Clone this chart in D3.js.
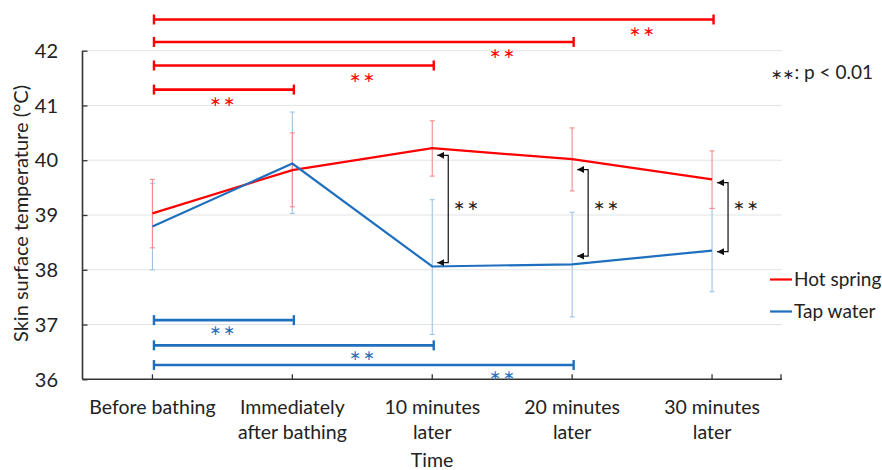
<!DOCTYPE html>
<html>
<head>
<meta charset="utf-8">
<script src="https://cdn.jsdelivr.net/npm/d3@7"></script>
<style>
  html, body { margin: 0; padding: 0; background: #fff; }
  svg { display: block; font-family: Lato, "Open Sans", sans-serif; }
  .star { font-family: "DejaVu Sans", sans-serif; }
</style>
</head>
<body>
<svg id="chart" width="882" height="470"></svg>
<script>
// ---------- data ----------
const categories = ["Before bathing", "Immediately\nafter bathing", "10 minutes\nlater", "20 minutes\nlater", "30 minutes\nlater"];
const seriesNames = ["Hot spring", "Tap water"];
const hotMean  = [39.03, 39.82, 40.22, 40.02, 39.65];
const hotUpper = [39.65, 40.50, 40.72, 40.59, 40.17];
const hotLower = [38.40, 39.15, 39.71, 39.44, 39.12];
const tapMean  = [38.79, 39.94, 38.06, 38.10, 38.35];
const tapUpper = [39.58, 40.88, 39.28, 39.05, 39.12];
const tapLower = [38.00, 39.03, 36.82, 37.14, 37.60];
const yTicks = [36, 37, 38, 39, 40, 41, 42];
// significance brackets (from category index, to category index, level in °C)
const hotBrackets = [
  {from: 0, to: 4, level: 42.57},
  {from: 0, to: 3, level: 42.16},
  {from: 0, to: 2, level: 41.73},
  {from: 0, to: 1, level: 41.29}
];
const tapBrackets = [
  {from: 0, to: 1, level: 37.08},
  {from: 0, to: 2, level: 36.62},
  {from: 0, to: 3, level: 36.26}
];
// between-group comparison arrows
const diffCats   = [2, 3, 4];
const diffTop    = [40.09, 39.83, 39.59];
const diffBottom = [38.13, 38.25, 38.33];
const diffStarLevel = 39.17;
const sigLabel = "\u2217\u2217";
const noteText = ": p < 0.01";

// ---------- layout ----------
const RED = "#ff0000", BLUE = "#1f6fbf";
const RED_ERR = "#f28b8b", BLUE_ERR = "#9cc3e5";
const svg = d3.select("#chart");
const x = d3.scaleBand().domain(categories).range([82.5, 782]);
const cx = i => x(categories[i]) + x.bandwidth() / 2;
const y = d3.scaleLinear().domain([36, 42]).range([379.3, 50.7]);

// gridlines
svg.append("g").selectAll("line").data(yTicks.slice(1)).join("line")
  .attr("x1", 82.5).attr("x2", 782)
  .attr("y1", d => y(d)).attr("y2", d => y(d))
  .attr("stroke", "#e3e3e3").attr("stroke-width", 1);

// y axis
const yAxis = svg.append("g").attr("transform", "translate(82.5,0)")
  .call(d3.axisRight(y).tickValues(yTicks).tickSize(5).tickFormat(""));
yAxis.select(".domain").attr("stroke", "#333").attr("stroke-width", 1.6).attr("d", `M0,${y(42)}V${y(36)}`);
yAxis.selectAll(".tick line").attr("stroke", "#333").attr("stroke-width", 1.3);
svg.append("g").selectAll("text").data(yTicks).join("text")
  .attr("x", 58).attr("y", d => y(d)).attr("dy", "0.36em")
  .attr("text-anchor", "end").attr("font-size", 20).attr("fill", "#222")
  .text(d => d);

// x axis
const xAxis = svg.append("g").attr("transform", `translate(0,${y(36)})`)
  .call(d3.axisTop(x).tickSize(5).tickFormat("").tickSizeOuter(0));
xAxis.select(".domain").attr("stroke", "#333").attr("stroke-width", 1.6).attr("d", "M82.5,0H782");
xAxis.selectAll(".tick line").attr("stroke", "#333").attr("stroke-width", 1.3);
xAxis.append("line").attr("x1", 781).attr("x2", 781).attr("y1", 0).attr("y2", -5)
  .attr("stroke", "#333").attr("stroke-width", 1.3);

const xl = svg.append("g").selectAll("text").data(categories).join("text")
  .attr("text-anchor", "middle").attr("font-size", 19.5).attr("fill", "#222")
  .attr("transform", d => `translate(${x(d) + x.bandwidth() / 2},414)`);
xl.selectAll("tspan").data(d => d.split("\n")).join("tspan")
  .attr("x", 0).attr("y", (d, i) => i * 25).text(d => d);

svg.append("text").attr("x", 432).attr("y", 467).attr("text-anchor", "middle")
  .attr("font-size", 19.5).attr("fill", "#222").text("Time");
svg.append("text").attr("transform", "translate(27.5,213.5) rotate(-90)")
  .attr("text-anchor", "middle").attr("font-size", 20).attr("fill", "#222")
  .text("Skin surface temperature (°C)");

// error bars
function errorBars(upper, lower, color) {
  const g = svg.append("g").attr("stroke", color).attr("stroke-width", 1.1);
  categories.forEach((c, i) => {
    g.append("line").attr("x1", cx(i)).attr("x2", cx(i)).attr("y1", y(upper[i])).attr("y2", y(lower[i]));
    g.append("line").attr("x1", cx(i) - 2.5).attr("x2", cx(i) + 2.5).attr("y1", y(upper[i])).attr("y2", y(upper[i]));
    g.append("line").attr("x1", cx(i) - 2.5).attr("x2", cx(i) + 2.5).attr("y1", y(lower[i])).attr("y2", y(lower[i]));
  });
}
errorBars(tapUpper, tapLower, BLUE_ERR);
errorBars(hotUpper, hotLower, RED_ERR);

// series lines
const line = d3.line().x((d, i) => cx(i)).y(d => y(d));
svg.append("path").datum(hotMean).attr("d", line).attr("fill", "none").attr("stroke", RED).attr("stroke-width", 2.2);
svg.append("path").datum(tapMean).attr("d", line).attr("fill", "none").attr("stroke", BLUE).attr("stroke-width", 2.2);

// brackets
function brackets(list, color, starDy) {
  const g = svg.append("g");
  list.forEach(b => {
    const x1 = cx(b.from) + 1.5, x2 = cx(b.to) + 1.5, yy = y(b.level);
    g.append("line").attr("x1", x1).attr("x2", x2).attr("y1", yy).attr("y2", yy)
      .attr("stroke", color).attr("stroke-width", 2.6);
    [x1, x2].forEach(xx => g.append("line").attr("x1", xx).attr("x2", xx)
      .attr("y1", yy - 5).attr("y2", yy + 5).attr("stroke", color).attr("stroke-width", 2.4));
    g.append("text").attr("class", "star").attr("x", cx(b.to) - x.bandwidth() / 2 + 1).attr("y", yy + starDy)
      .attr("dy", "0.32em").attr("letter-spacing", 2)
      .attr("text-anchor", "middle").attr("font-size", 14).attr("fill", color)
      .text(sigLabel);
  });
}
brackets(hotBrackets, RED, 12);
brackets(tapBrackets, BLUE, 10);

// difference arrows
svg.append("defs").append("marker").attr("id", "arr")
  .attr("viewBox", "0 0 10 10").attr("refX", 10).attr("refY", 5)
  .attr("markerWidth", 7).attr("markerHeight", 7).attr("orient", "auto-start-reverse")
  .attr("markerUnits", "userSpaceOnUse")
  .append("path").attr("d", "M0,0L10,5L0,10Z").attr("fill", "#111");
diffCats.forEach((c, k) => {
  const xv = cx(c) + 16, xt = cx(c) + 5;
  svg.append("path")
    .attr("d", `M${xt},${y(diffTop[k])}H${xv}V${y(diffBottom[k])}H${xt}`)
    .attr("fill", "none").attr("stroke", "#111").attr("stroke-width", 1.2)
    .attr("marker-start", "url(#arr)").attr("marker-end", "url(#arr)");
  svg.append("text").attr("class", "star").attr("x", cx(c) + 35).attr("y", y(diffStarLevel))
    .attr("dy", "0.32em").attr("letter-spacing", 2)
    .attr("text-anchor", "middle").attr("font-size", 14).attr("fill", "#222")
    .text(sigLabel);
});

// legend
const legend = svg.append("g");
[RED, BLUE].forEach((col, i) => {
  const ly = 279.5 + i * 32;
  legend.append("line").attr("x1", 770).attr("x2", 792).attr("y1", ly).attr("y2", ly)
    .attr("stroke", col).attr("stroke-width", 2.2);
  legend.append("text").attr("x", 794).attr("y", ly).attr("dy", "0.36em")
    .attr("font-size", 19).attr("fill", "#222").text(seriesNames[i]);
});

// note
const note = svg.append("text").attr("x", 771).attr("y", 79).attr("font-size", 19).attr("fill", "#222");
note.append("tspan").attr("class", "star").attr("font-size", 14).text(sigLabel);
note.append("tspan").text(noteText);
</script>
</body>
</html>
